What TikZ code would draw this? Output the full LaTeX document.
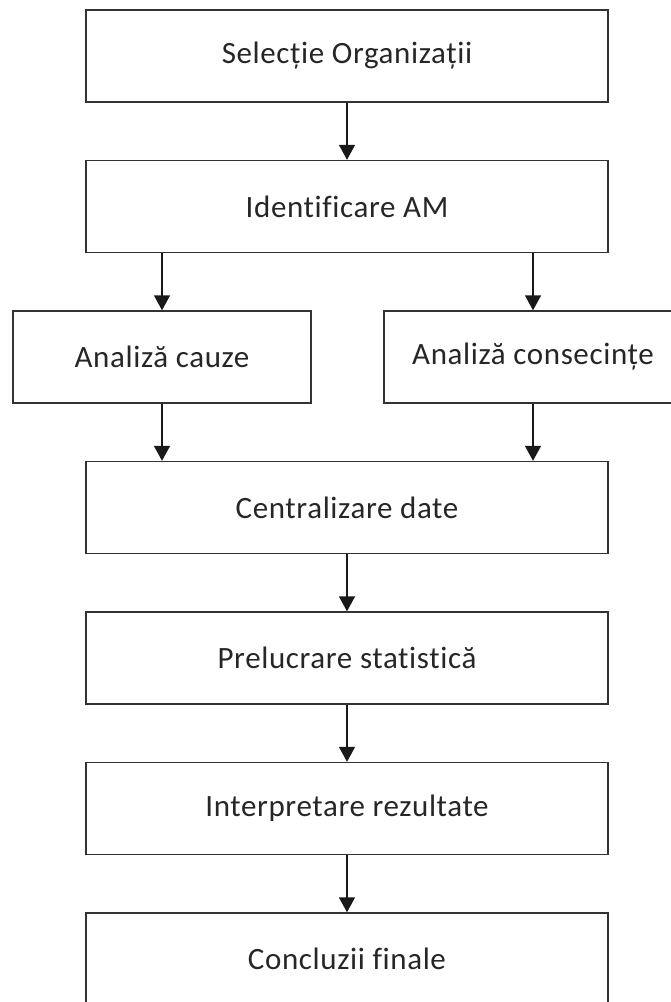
\documentclass[tikz,border=0pt]{standalone}
\usepackage{fontspec}
\setmainfont{Carlito}[Ligatures=CommonOff,LetterSpace=2]
\usepackage{xcolor}
\usetikzlibrary{arrows.meta}

\begin{document}
\begin{tikzpicture}[x=1pt,y=-1pt,>={Triangle[width=16pt,length=15pt]},
  stepbox/.style={draw=black!80,line width=1.4pt,minimum width=522pt,minimum height=92pt,
    inner sep=0pt,font=\fontsize{31}{35}\selectfont,text=black!85},
  halfbox/.style={stepbox,minimum width=298pt},
  flow/.style={->,line width=1.4pt,draw=black!90}]

\useasboundingbox (0,0) rectangle (671,1002);

% row pitch
\def\pitch{150.5}

% boxes
\node[stepbox] (sel)    at (347,56)           {Selecție Organizații};
\node[stepbox] (ident)  at (347,{56+\pitch})  {Identificare AM};
\node[halfbox] (cauze)  at (162,{56+2*\pitch}) {Analiză cauze};
\node[halfbox] (cons)   at (533,{56+2*\pitch}) {Analiză consecințe};
\node[stepbox] (centr)  at (347,{56+3*\pitch}) {Centralizare date};
\node[stepbox] (prel)   at (347,{56+4*\pitch}) {Prelucrare statistică};
\node[stepbox] (interp) at (347,{56+5*\pitch}) {Interpretare rezultate};
\node[stepbox] (concl)  at (347,{56+6*\pitch}) {Concluzii finale};

% arrows
\draw[flow] (sel) -- (ident);
\draw[flow] (cauze.north |- ident.south) -- (cauze.north);
\draw[flow] (cons.north |- ident.south) -- (cons.north);
\draw[flow] (cauze.south) -- (cauze.south |- centr.north);
\draw[flow] (cons.south) -- (cons.south |- centr.north);
\draw[flow] (centr) -- (prel);
\draw[flow] (prel) -- (interp);
\draw[flow] (interp) -- (concl);

\end{tikzpicture}
\end{document}
